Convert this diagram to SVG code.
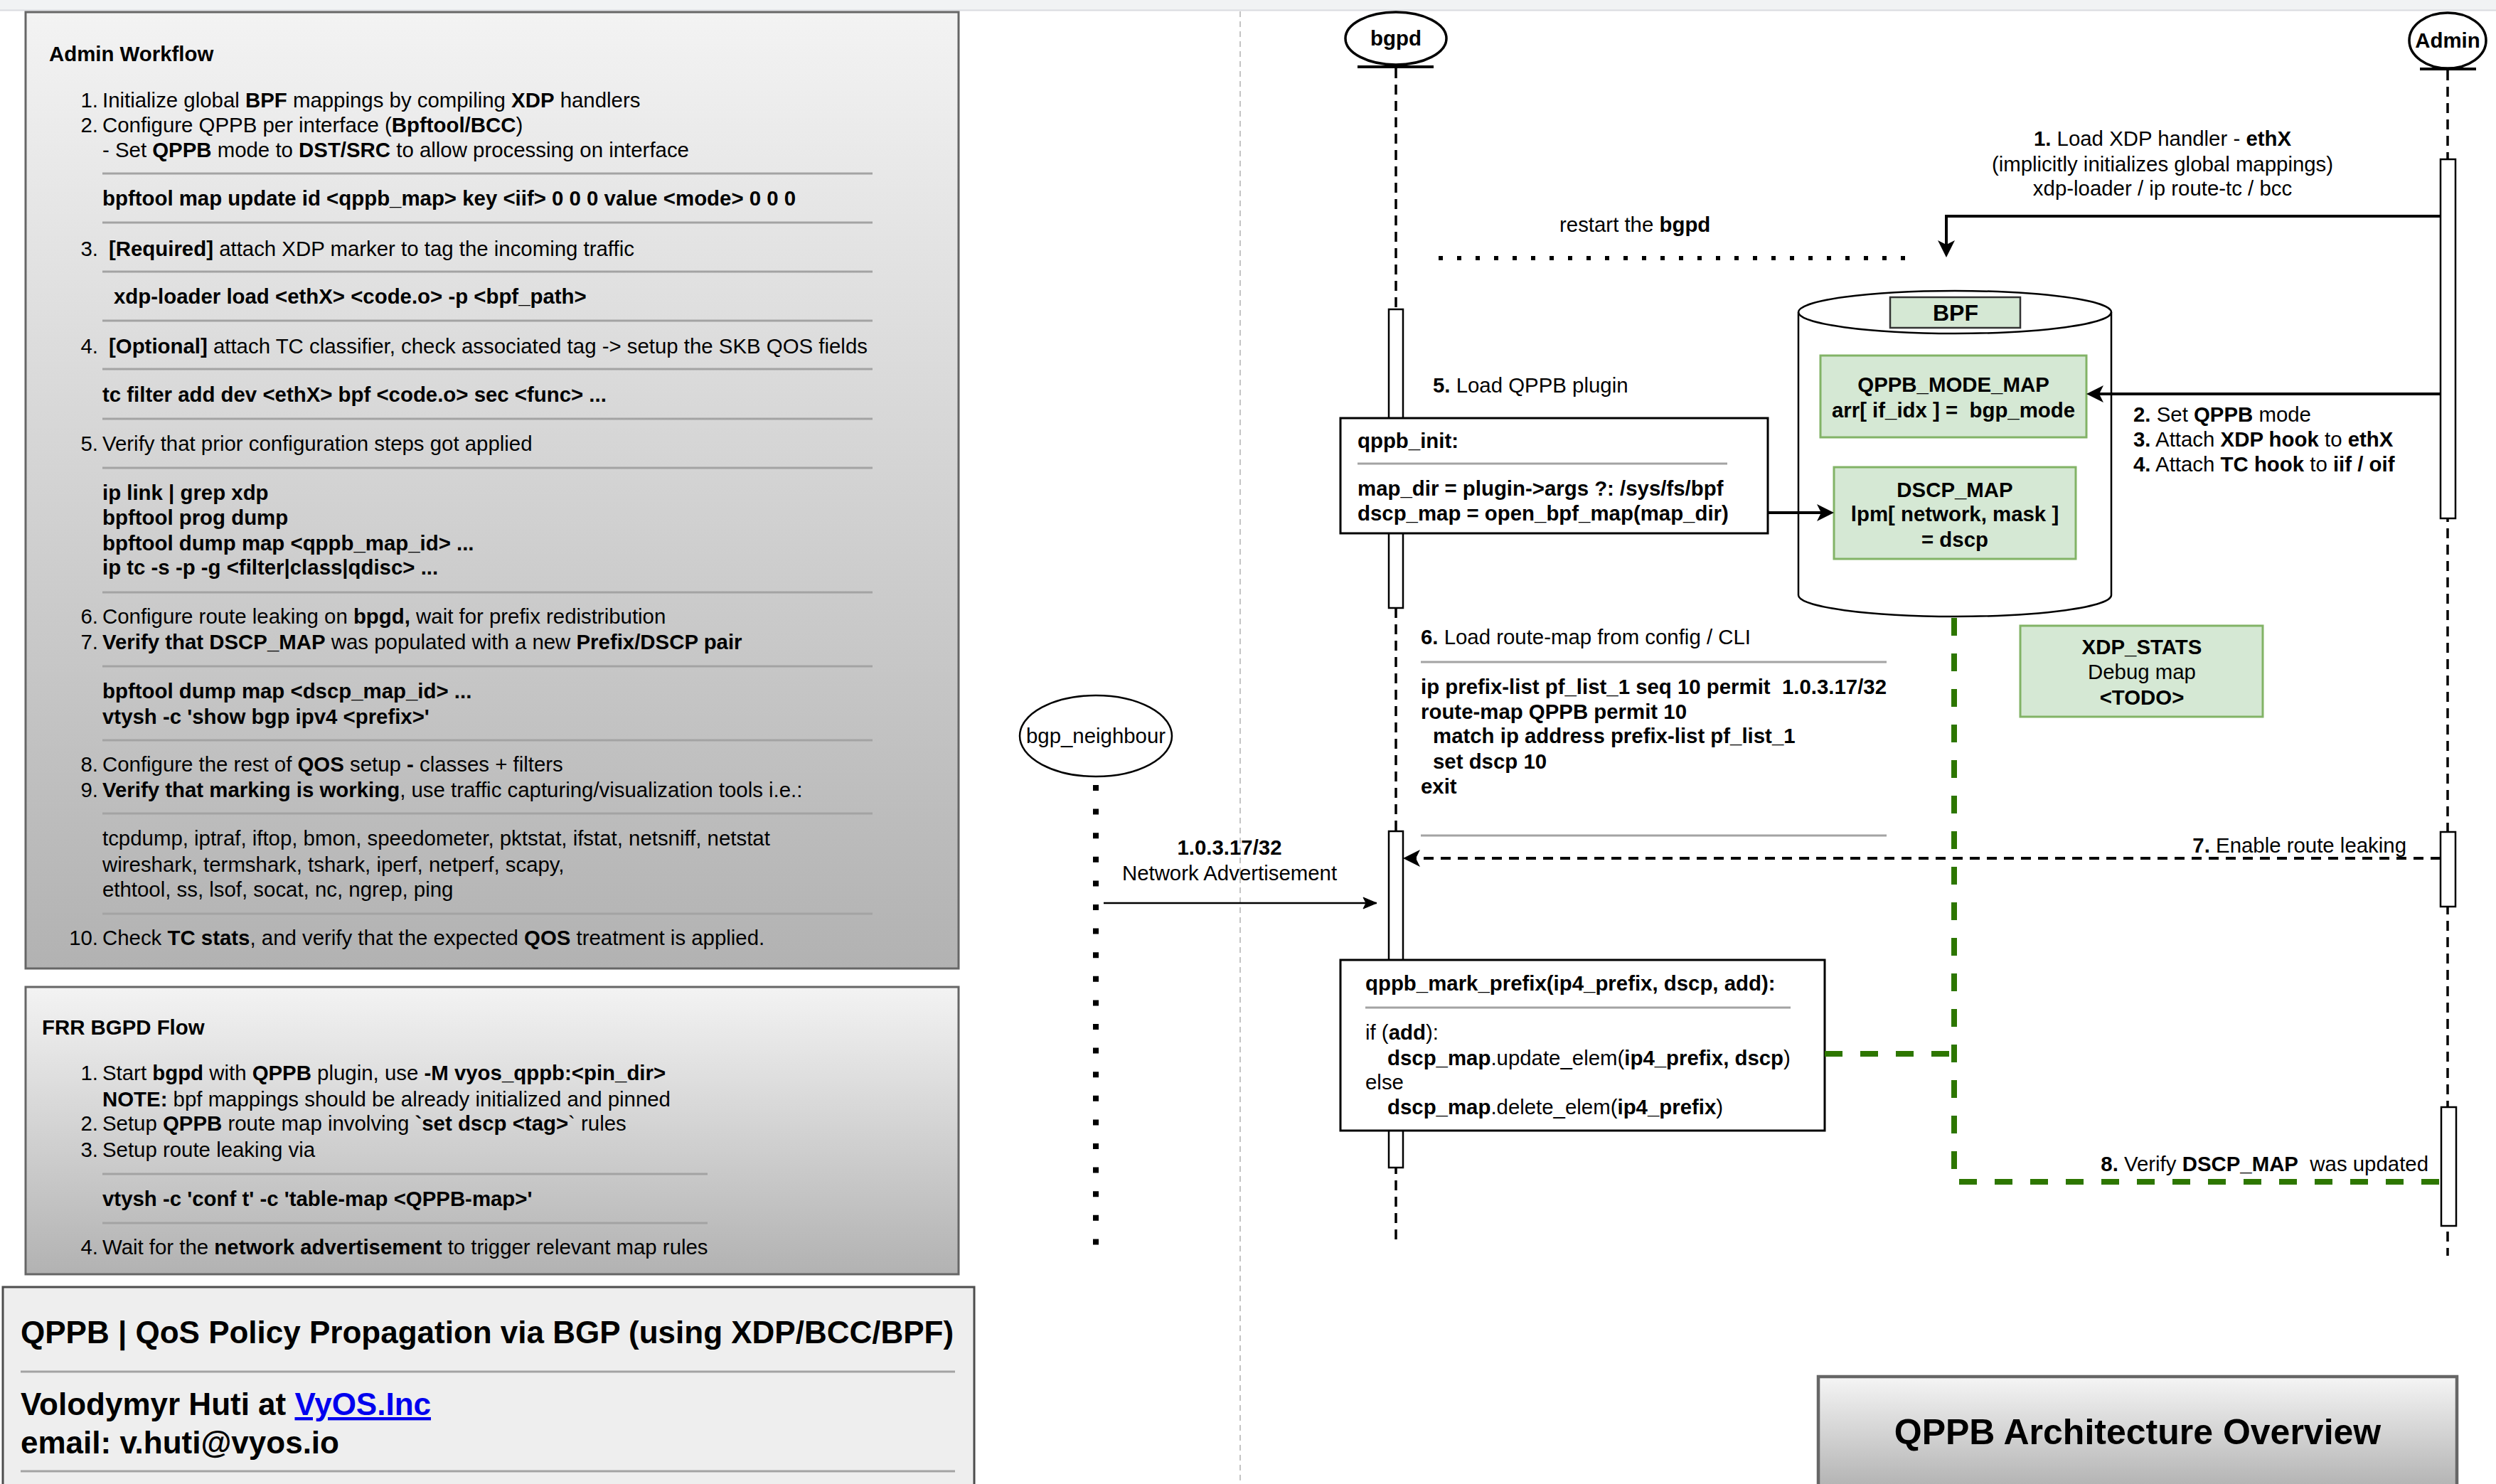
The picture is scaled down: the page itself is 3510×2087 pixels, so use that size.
<svg xmlns="http://www.w3.org/2000/svg" width="3510" height="2087" viewBox="0 0 3510 2087">
<style>
text { font-family: "Liberation Sans", Arial, Helvetica, sans-serif; font-size: 29.4px; fill: #000; }
.b { font-weight: bold; }
.c { text-anchor: middle; }
.e { text-anchor: end; }
.hr { stroke: #a3a3a3; stroke-width: 3; }
.box { fill: #fff; stroke: #000; stroke-width: 3; }
.bar { fill: #fff; stroke: #000; stroke-width: 2.5; }
.map { fill: #d5e8d4; stroke: #82b366; stroke-width: 3; }
.life { stroke: #000; stroke-width: 3.5; stroke-dasharray: 14 9; fill: none; }
.msg { stroke: #000; stroke-width: 4; fill: none; }
.grn { stroke: #2d7600; stroke-width: 8; stroke-dasharray: 25 25; fill: none; }
.big { font-size: 44px; font-weight: bold; }
</style>
<defs>
<linearGradient id="gPanel" x1="0" y1="0" x2="0" y2="1">
<stop offset="0" stop-color="#f3f3f3"/>
<stop offset="1" stop-color="#b2b2b2"/>
</linearGradient>
<linearGradient id="gOver" x1="0" y1="0" x2="0" y2="1">
<stop offset="0" stop-color="#f5f5f5"/>
<stop offset="1" stop-color="#adadad"/>
</linearGradient>
<marker id="aFill" markerUnits="userSpaceOnUse" markerWidth="26" markerHeight="26" refX="16" refY="13" orient="auto">
<path d="M0,1 L24,13 L0,25 L6,13 Z" fill="#000"/>
</marker>
<marker id="aThin" markerUnits="userSpaceOnUse" markerWidth="24" markerHeight="20" refX="20" refY="9" orient="auto">
<path d="M1,1 L20,9 L1,17 L5,9 Z" fill="#000" stroke="#000" stroke-width="1"/>
</marker>
</defs>

<rect x="0" y="0" width="3510" height="2087" fill="#fff"/>
<rect x="0" y="0" width="3510" height="14" fill="#f1f3f4"/>
<line x1="0" y1="14.5" x2="3510" y2="14.5" stroke="#dadce0" stroke-width="2"/>
<line x1="1744" y1="16" x2="1744" y2="2087" stroke="#c4c4c4" stroke-width="2" stroke-dasharray="8 6"/>

<g id="admin-workflow">
<rect x="36" y="17" width="1312" height="1345" fill="url(#gPanel)" stroke="#666" stroke-width="3"/>
<text x="69" y="86" class="b">Admin Workflow</text>
<text x="138" y="151" class="e">1.</text>
<text x="144" y="151">Initialize global <tspan class="b">BPF</tspan> mappings by compiling <tspan class="b">XDP</tspan> handlers</text>
<text x="138" y="186" class="e">2.</text>
<text x="144" y="186">Configure QPPB per interface (<tspan class="b">Bpftool/BCC</tspan>)</text>
<text x="144" y="221">- Set <tspan class="b">QPPB</tspan> mode to <tspan class="b">DST/SRC</tspan> to allow processing on interface</text>
<line x1="144" y1="244" x2="1227" y2="244" class="hr"/>
<text x="144" y="289" class="b">bpftool map update id &lt;qppb_map&gt; key &lt;iif&gt; 0 0 0 value &lt;mode&gt; 0 0 0</text>
<line x1="144" y1="313" x2="1227" y2="313" class="hr"/>
<text x="138" y="360" class="e">3.</text>
<text x="153" y="360"><tspan class="b">[Required]</tspan> attach XDP marker to tag the incoming traffic</text>
<line x1="144" y1="382" x2="1227" y2="382" class="hr"/>
<text x="160" y="427" class="b">xdp-loader load &lt;ethX&gt; &lt;code.o&gt; -p &lt;bpf_path&gt;</text>
<line x1="144" y1="451" x2="1227" y2="451" class="hr"/>
<text x="138" y="497" class="e">4.</text>
<text x="153" y="497"><tspan class="b">[Optional]</tspan> attach TC classifier, check associated tag -&gt; setup the SKB QOS fields</text>
<line x1="144" y1="519" x2="1227" y2="519" class="hr"/>
<text x="144" y="565" class="b">tc filter add dev &lt;ethX&gt; bpf &lt;code.o&gt; sec &lt;func&gt; ...</text>
<line x1="144" y1="589" x2="1227" y2="589" class="hr"/>
<text x="138" y="634" class="e">5.</text>
<text x="144" y="634">Verify that prior configuration steps got applied</text>
<line x1="144" y1="658" x2="1227" y2="658" class="hr"/>
<text x="144" y="703" class="b">ip link | grep xdp</text>
<text x="144" y="738" class="b">bpftool prog dump</text>
<text x="144" y="774" class="b">bpftool dump map &lt;qppb_map_id&gt; ...</text>
<text x="144" y="808" class="b">ip tc -s -p -g &lt;filter|class|qdisc&gt; ...</text>
<line x1="144" y1="833" x2="1227" y2="833" class="hr"/>
<text x="138" y="877" class="e">6.</text>
<text x="144" y="877">Configure route leaking on <tspan class="b">bpgd,</tspan> wait for prefix redistribution</text>
<text x="138" y="913" class="e">7.</text>
<text x="144" y="913"><tspan class="b">Verify that DSCP_MAP</tspan> was populated with a new <tspan class="b">Prefix/DSCP pair</tspan></text>
<line x1="144" y1="937" x2="1227" y2="937" class="hr"/>
<text x="144" y="982" class="b">bpftool dump map &lt;dscp_map_id&gt; ...</text>
<text x="144" y="1018" class="b">vtysh -c 'show bgp ipv4 &lt;prefix&gt;'</text>
<line x1="144" y1="1041" x2="1227" y2="1041" class="hr"/>
<text x="138" y="1085" class="e">8.</text>
<text x="144" y="1085">Configure the rest of <tspan class="b">QOS</tspan> setup <tspan class="b">-</tspan> classes + filters</text>
<text x="138" y="1121" class="e">9.</text>
<text x="144" y="1121"><tspan class="b">Verify that marking is working</tspan>, use traffic capturing/visualization tools i.e.:</text>
<line x1="144" y1="1144" x2="1227" y2="1144" class="hr"/>
<text x="144" y="1189">tcpdump, iptraf, iftop, bmon, speedometer, pktstat, ifstat, netsniff, netstat</text>
<text x="144" y="1226">wireshark, termshark, tshark, iperf, netperf, scapy,</text>
<text x="144" y="1261">ethtool, ss, lsof, socat, nc, ngrep, ping</text>
<line x1="144" y1="1285" x2="1227" y2="1285" class="hr"/>
<text x="138" y="1329" class="e">10.</text>
<text x="144" y="1329">Check <tspan class="b">TC stats</tspan>, and verify that the expected <tspan class="b">QOS</tspan> treatment is applied.</text>
</g>

<g id="frr-bgpd-flow">
<rect x="36" y="1388" width="1312" height="404" fill="url(#gPanel)" stroke="#666" stroke-width="3"/>
<text x="59" y="1455" class="b">FRR BGPD Flow</text>
<text x="138" y="1519" class="e">1.</text>
<text x="144" y="1519">Start <tspan class="b">bgpd</tspan> with <tspan class="b">QPPB</tspan> plugin, use <tspan class="b">-M vyos_qppb:&lt;pin_dir&gt;</tspan></text>
<text x="144" y="1556"><tspan class="b">NOTE:</tspan> bpf mappings should be already initialized and pinned</text>
<text x="138" y="1590" class="e">2.</text>
<text x="144" y="1590">Setup <tspan class="b">QPPB</tspan> route map involving <tspan class="b">`set dscp &lt;tag&gt;</tspan>` rules</text>
<text x="138" y="1627" class="e">3.</text>
<text x="144" y="1627">Setup route leaking via</text>
<line x1="144" y1="1651" x2="995" y2="1651" class="hr"/>
<text x="144" y="1696" class="b">vtysh -c 'conf t' -c 'table-map &lt;QPPB-map&gt;'</text>
<line x1="144" y1="1720" x2="995" y2="1720" class="hr"/>
<text x="138" y="1764" class="e">4.</text>
<text x="144" y="1764">Wait for the <tspan class="b">network advertisement</tspan> to trigger relevant map rules</text>
</g>

<g id="title">
<rect x="4" y="1810" width="1366" height="300" fill="#eeeeee" stroke="#4d4d4d" stroke-width="3"/>
<text x="29" y="1889" class="big">QPPB | QoS Policy Propagation via BGP (using XDP/BCC/BPF)</text>
<line x1="29" y1="1929" x2="1343" y2="1929" class="hr"/>
<text x="29" y="1990" class="big">Volodymyr Huti at <tspan fill="#0000ee" text-decoration="underline">VyOS.Inc</tspan></text>
<text x="29" y="2044" class="big">email: v.huti@vyos.io</text>
<line x1="29" y1="2069" x2="1343" y2="2069" class="hr"/>
</g>

<g id="lifelines">
<line x1="1963" y1="96" x2="1963" y2="1744" class="life"/>
<line x1="3442" y1="99" x2="3442" y2="1766" class="life"/>
<line x1="1541" y1="1104" x2="1541" y2="1752" stroke="#000" stroke-width="8" stroke-dasharray="8 25.6"/>
</g>

<g id="bgpd">
<ellipse cx="1963" cy="54" rx="71" ry="37" fill="#fff" stroke="#000" stroke-width="3.5"/>
<line x1="1909" y1="94" x2="2016" y2="94" stroke="#000" stroke-width="4"/>
<text x="1963" y="64" class="b c">bgpd</text>
</g>

<g id="admin">
<ellipse cx="3442" cy="57" rx="54" ry="39" fill="#fff" stroke="#000" stroke-width="3.5"/>
<line x1="3403" y1="97" x2="3482" y2="97" stroke="#000" stroke-width="4"/>
<text x="3442" y="67" class="b c">Admin</text>
</g>

<g id="bgp-neighbour">
<ellipse cx="1541" cy="1035" rx="107" ry="57" fill="#fff" stroke="#000" stroke-width="2.5"/>
<text x="1541" y="1045" class="c">bgp_neighbour</text>
</g>

<g id="activations">
<rect x="1953" y="435" width="20" height="420" class="bar"/>
<rect x="1953" y="1169" width="20" height="473" class="bar"/>
<rect x="3432" y="224" width="21" height="505" class="bar"/>
<rect x="3432" y="1170" width="21" height="105" class="bar"/>
<rect x="3433" y="1557" width="21" height="167" class="bar"/>
</g>

<g id="bpf">
<path d="M2529,439 A220,30 0 0,1 2969,439 L2969,837 A220,30 0 0,1 2529,837 Z" fill="#fff" stroke="#000" stroke-width="2.5"/>
<path d="M2529,439 A220,30 0 0,0 2969,439" fill="none" stroke="#000" stroke-width="2.5"/>
<rect x="2658" y="418" width="183" height="43" fill="#d5e8d4" stroke="#333" stroke-width="2.5"/>
<text x="2750" y="451" class="b c" style="font-size:32px">BPF</text>
</g>

<g id="qppb-mode-map">
<rect x="2560" y="500" width="374" height="115" class="map"/>
<text x="2747" y="551" class="b c">QPPB_MODE_MAP</text>
<text x="2747" y="587" class="b c" xml:space="preserve">arr[ if_idx ] =  bgp_mode</text>
</g>

<g id="dscp-map">
<rect x="2579" y="657" width="340" height="129" class="map"/>
<text x="2749" y="699" class="b c">DSCP_MAP</text>
<text x="2749" y="733" class="b c">lpm[ network, mask ]</text>
<text x="2749" y="769" class="b c">= dscp</text>
</g>

<g id="xdp-stats">
<rect x="2841" y="880" width="341" height="128" class="map"/>
<text x="3012" y="920" class="b c">XDP_STATS</text>
<text x="3012" y="955" class="c">Debug map</text>
<text x="3012" y="991" class="b c">&lt;TODO&gt;</text>
</g>

<g id="qppb-init">
<rect x="1885" y="588" width="601" height="162" class="box"/>
<text x="1909" y="630" class="b">qppb_init:</text>
<line x1="1909" y1="652" x2="2429" y2="652" class="hr"/>
<text x="1909" y="697" class="b">map_dir = plugin-&gt;args ?: /sys/fs/bpf</text>
<text x="1909" y="732" class="b">dscp_map = open_bpf_map(map_dir)</text>
</g>

<g id="route-map-note">
<text x="1998" y="906"><tspan class="b">6.</tspan> Load route-map from config / CLI</text>
<line x1="1998" y1="931" x2="2653" y2="931" class="hr"/>
<text x="1998" y="976" class="b" xml:space="preserve">ip prefix-list pf_list_1 seq 10 permit  1.0.3.17/32</text>
<text x="1998" y="1011" class="b">route-map QPPB permit 10</text>
<text x="2015" y="1045" class="b">match ip address prefix-list pf_list_1</text>
<text x="2015" y="1081" class="b">set dscp 10</text>
<text x="1998" y="1116" class="b">exit</text>
<line x1="1998" y1="1175" x2="2653" y2="1175" class="hr"/>
</g>

<g id="qppb-mark-prefix">
<rect x="1885" y="1350" width="681" height="240" class="box"/>
<text x="1920" y="1393" class="b">qppb_mark_prefix(ip4_prefix, dscp, add):</text>
<line x1="1920" y1="1417" x2="2518" y2="1417" class="hr"/>
<text x="1920" y="1462">if (<tspan class="b">add</tspan>):</text>
<text x="1951" y="1498"><tspan class="b">dscp_map</tspan>.update_elem(<tspan class="b">ip4_prefix, dscp</tspan>)</text>
<text x="1920" y="1532">else</text>
<text x="1951" y="1567"><tspan class="b">dscp_map</tspan>.delete_elem(<tspan class="b">ip4_prefix</tspan>)</text>
</g>

<g id="connectors">
<path d="M3432,304 L2737,304 L2737,354" class="msg" marker-end="url(#aFill)"/>
<text x="3041" y="205" class="c"><tspan class="b">1.</tspan> Load XDP handler - <tspan class="b">ethX</tspan></text>
<text x="3041" y="241" class="c">(implicitly initializes global mappings)</text>
<text x="3041" y="275" class="c">xdp-loader / ip route-tc / bcc</text>

<line x1="2023" y1="363" x2="2690" y2="363" stroke="#000" stroke-width="6" stroke-dasharray="6 20"/>
<text x="2193" y="326">restart the <tspan class="b">bgpd</tspan></text>

<text x="2015" y="552"><tspan class="b">5.</tspan> Load QPPB plugin</text>

<line x1="3432" y1="554" x2="2942" y2="554" class="msg" marker-end="url(#aFill)"/>
<text x="3000" y="593"><tspan class="b">2.</tspan> Set <tspan class="b">QPPB</tspan> mode</text>
<text x="3000" y="628"><tspan class="b">3.</tspan> Attach <tspan class="b">XDP hook</tspan> to <tspan class="b">ethX</tspan></text>
<text x="3000" y="663"><tspan class="b">4.</tspan> Attach <tspan class="b">TC hook</tspan> to <tspan class="b">iif / oif</tspan></text>

<line x1="2486" y1="721" x2="2571" y2="721" class="msg" marker-end="url(#aFill)"/>

<line x1="3432" y1="1207" x2="1981" y2="1207" class="msg" stroke-dasharray="14 10" marker-end="url(#aFill)"/>
<text x="3384" y="1199" class="e"><tspan class="b">7.</tspan> Enable route leaking</text>

<line x1="1552" y1="1270" x2="1936" y2="1270" stroke="#000" stroke-width="2.5" marker-end="url(#aThin)"/>
<text x="1729" y="1202" class="b c">1.0.3.17/32</text>
<text x="1729" y="1238" class="c">Network Advertisement</text>

<path d="M2748,869 L2748,1662 L3432,1662" class="grn"/>
<line x1="2566" y1="1482" x2="2748" y2="1482" class="grn"/>
<text x="3415" y="1647" class="e" xml:space="preserve"><tspan class="b">8.</tspan> Verify <tspan class="b">DSCP_MAP</tspan>  was updated</text>
</g>

<g id="overview">
<rect x="2557" y="1936" width="898" height="170" fill="url(#gOver)" stroke="#666" stroke-width="4.5"/>
<text x="3006" y="2031" class="b c" style="font-size:50px">QPPB Architecture Overview</text>
</g>
</svg>
